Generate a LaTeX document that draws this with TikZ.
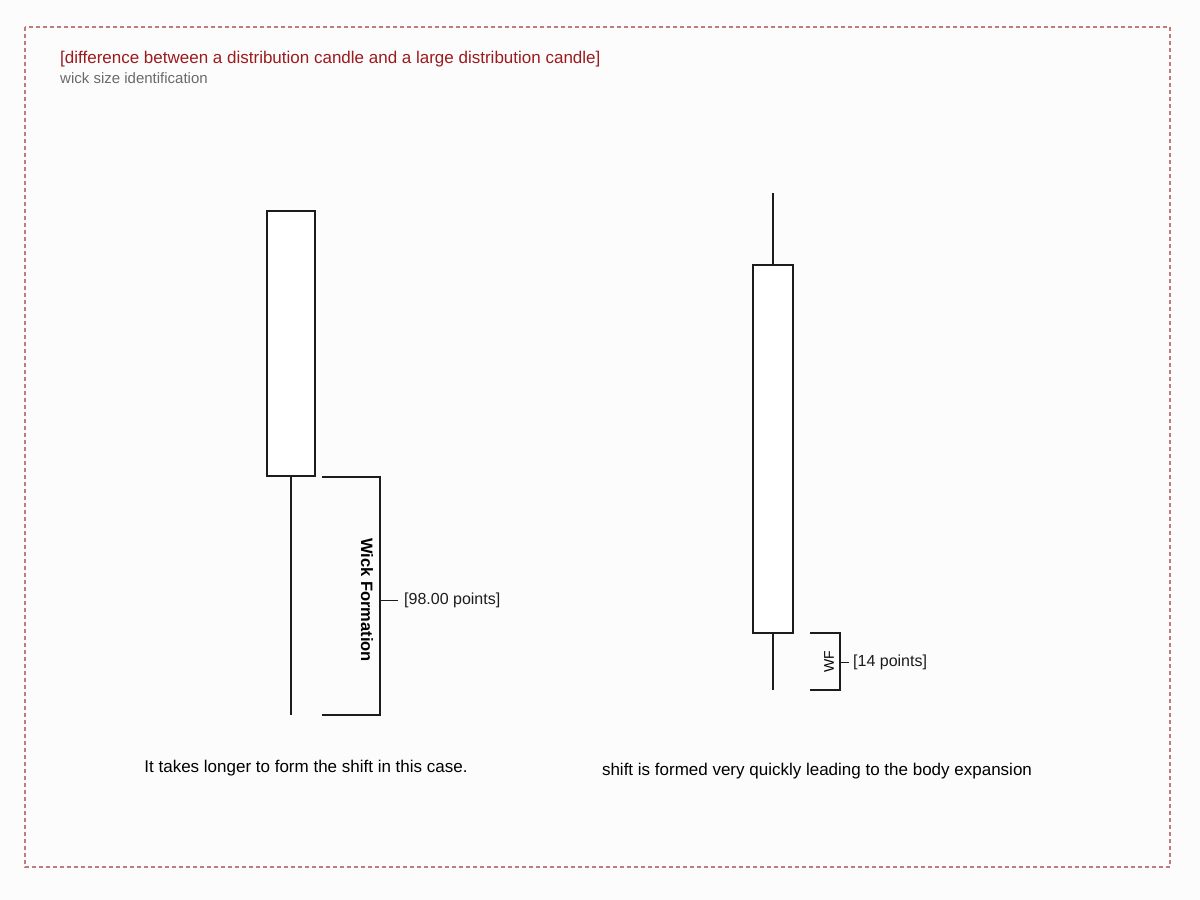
\documentclass[tikz,border=0pt]{standalone}
\usepackage{fontspec}
\setmainfont{Liberation Sans}
\usetikzlibrary{positioning}
\definecolor{figbg}{HTML}{FCFCFC}
\definecolor{figframe}{HTML}{C27A7A}
\definecolor{figtitle}{HTML}{9B1B1E}
\definecolor{figsub}{HTML}{6A6A6A}
\definecolor{figink}{HTML}{1C1C1C}
\tikzset{
  body/.style={
    rectangle, draw=figink, fill=white, line width=1.5pt,
    inner sep=0pt
  },
  wick/.style={draw=figink, line width=1.5pt},
  bracket/.style={draw=figink, line width=1.4pt},
  bracketlabel/.style={font=\fontsize{16.5}{19}\selectfont\bfseries, inner sep=1pt},
  sizelabel/.style={font=\fontsize{16}{19}\selectfont, text=figink, inner sep=0pt, anchor=west},
  caption/.style={font=\fontsize{17}{20}\selectfont, text=black, inner sep=0pt}
}

\begin{document}
\begin{tikzpicture}[x=1pt, y=-1pt]
  \useasboundingbox (0,0) rectangle (1200,900);
  \fill[figbg] (0,0) rectangle (1200,900);
  \draw[figframe, dash pattern=on 4pt off 3pt, line width=1.2pt] (25,27) rectangle (1170,867);

  \node[anchor=base west, text=figtitle, font=\fontsize{17}{20}\selectfont, inner sep=0pt]
    (title) at (60,63) {[difference between a distribution candle and a large distribution candle]};
  \node[anchor=base west, text=figsub, font=\fontsize{15}{18}\selectfont, inner sep=0pt]
    (subtitle) at (60,83) {wick size identification};

  % distribution candle
  \node[body, minimum width=48pt, minimum height=265pt] (bodyA) at (291,343.5) {};
  \coordinate (lowA) at (291,715);
  \draw[wick] (bodyA.south) -- (lowA);
  \coordinate (brA1) at (322,477);
  \coordinate (brA2) at (380,477);
  \coordinate (brA3) at (380,715);
  \coordinate (brA4) at (322,715);
  \draw[bracket] (brA1) -- (brA2) -- (brA3) -- (brA4);
  \coordinate (tickA) at (380,600);
  \node[bracketlabel, rotate=-90] (wfA) at (367,600) {Wick Formation};
  \node[sizelabel] (sizeA) at (404,600) {[98.00 points]};
  \draw[bracket, line width=0.9pt] (tickA) -- ([xshift=-6pt]sizeA.west);

  % large distribution candle
  \node[body, minimum width=40pt, minimum height=368pt] (bodyB) at (773,449) {};
  \coordinate (highB) at (773,193);
  \coordinate (lowB) at (773,690);
  \draw[wick] (highB) -- (bodyB.north);
  \draw[wick] (bodyB.south) -- (lowB);
  \coordinate (brB1) at (810,633);
  \coordinate (brB2) at (840,633);
  \coordinate (brB3) at (840,690);
  \coordinate (brB4) at (810,690);
  \draw[bracket] (brB1) -- (brB2) -- (brB3) -- (brB4);
  \coordinate (tickB) at (840,662);
  \node[font=\fontsize{14}{17}\selectfont, rotate=90, inner sep=1pt] (wfB) at (829,662) {WF};
  \node[sizelabel] (sizeB) at (853,662) {[14 points]};
  \draw[bracket, line width=1pt] (tickB) -- ([xshift=-4pt]sizeB.west);

  \node[caption] (capA) at (306,768) {It takes longer to form the shift in this case.};
  \node[caption] (capB) at (817,771) {shift is formed very quickly leading to the body expansion};
\end{tikzpicture}
\end{document}
